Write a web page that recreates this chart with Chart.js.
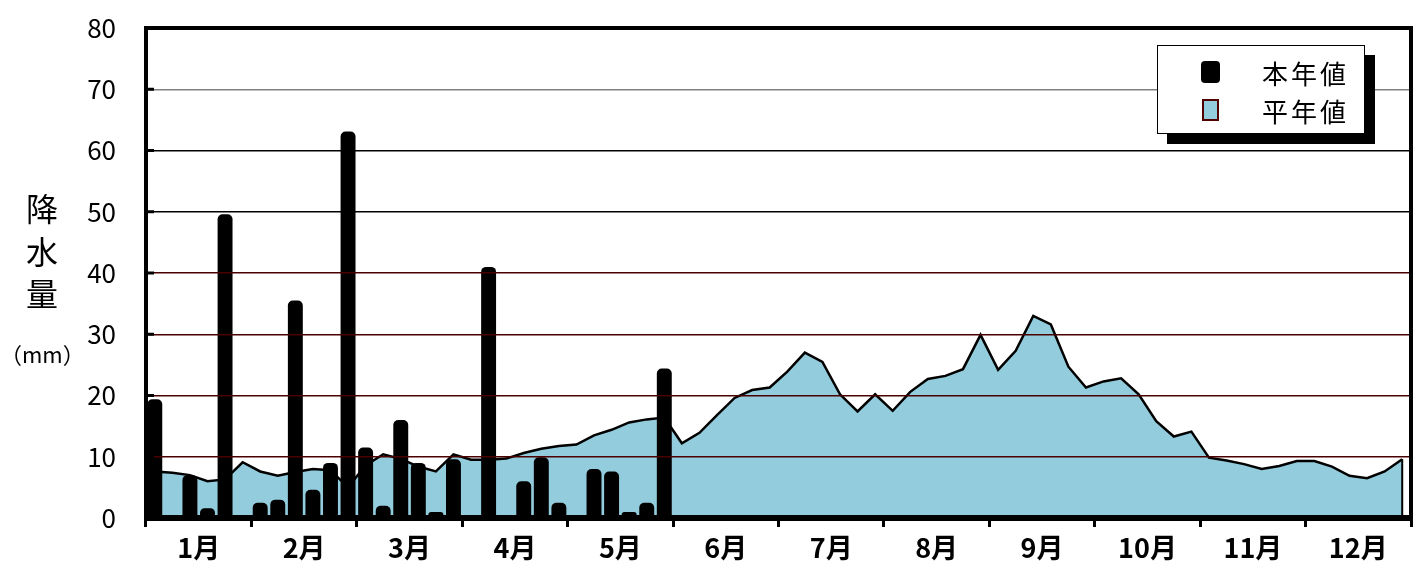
<!DOCTYPE html>
<html>
<head>
<meta charset="utf-8">
<script src="https://cdn.jsdelivr.net/npm/chart.js@4.4.1/dist/chart.umd.min.js"></script>
<style>
  body { margin: 0; background: #fff; }
  #wrap { position: relative; width: 1423px; height: 574px; font-family: "Noto Sans CJK JP", sans-serif; }
  #ytitle { position: absolute; left: 22px; top: 186px; width: 40px; text-align: center; font-size: 32px; line-height: 42.5px; }
  #yunit { position: absolute; left: 0px; top: 337px; width: 82px; text-align: center; font-size: 22px; }
  #legend { position: absolute; left: 1157px; top: 45px; width: 206px; height: 87px; border: 1.5px solid #000; background: #fff; box-shadow: 10px 10px 0 #000; }
  .mk { position: absolute; box-sizing: border-box; }
  .lt { position: absolute; left: 104px; font-size: 26px; letter-spacing: 3px; line-height: 30px; }
</style>
</head>
<body>
<div id="wrap">
  <canvas id="c" width="1423" height="574"></canvas>
  <div id="ytitle">降<br>水<br>量</div>
  <div id="yunit">（mm）</div>
  <div id="legend">
    <div class="mk" style="left:43px;top:15px;width:19px;height:22px;background:#000;border-radius:4px;"></div>
    <div class="lt" style="top:12px;">本年値</div>
    <div class="mk" style="left:44px;top:53px;width:17px;height:22px;background:#93cddd;border:2px solid #500000;"></div>
    <div class="lt" style="top:50px;">平年値</div>
  </div>
</div>
<script>
const months = ["1月", "2月", "3月", "4月", "5月", "6月", "7月", "8月", "9月", "10月", "11月", "12月"];
const pentads = months.flatMap((m) => [1, 2, 3, 4, 5, 6].map((k) => m + k));

// this year (5-day totals, Jan - May)
const thisYear = [
  19.4, 0, 7.0, 1.6, 49.6, 0,
  2.5, 3.0, 35.5, 4.6, 9.0, 63.1,
  11.5, 2.0, 16.0, 9.0, 1.0, 9.6,
  0, 41.0, 0, 6.0, 9.9, 2.5,
  0, 8.0, 7.6, 1.0, 2.5, 24.4,
];

// normal values
const normal = [
  7.6, 7.4, 7.0, 6.0, 6.3, 9.1,
  7.6, 6.9, 7.5, 8.0, 7.8, 5.0,
  8.6, 10.4, 9.65, 8.4, 7.6, 10.4,
  9.5, 9.5, 9.7, 10.6, 11.3, 11.75,
  12.0, 13.5, 14.4, 15.6, 16.1, 16.4,
  12.2, 13.9, 16.8, 19.6, 20.9, 21.3,
  23.9, 27.0, 25.5, 20.2, 17.4, 20.2,
  17.5, 20.6, 22.7, 23.2, 24.3, 29.9,
  24.2, 27.3, 33.0, 31.6, 24.7, 21.3,
  22.3, 22.8, 20.2, 15.8, 13.3, 14.1,
  9.85, 9.4, 8.8, 8.0, 8.5, 9.3,
  9.3, 8.4, 6.9, 6.5, 7.6, 9.6,
];

const yTicks = [0, 10, 20, 30, 40, 50, 60, 70, 80];

function gridColor(v) {
  if (v === 70) return "#808080";
  if (v === 50 || v === 60) return "#000";
  return "#4a0000";
}

const frame = {
  id: "frame",
  afterDraw(chart) {
    const { ctx, chartArea: a } = chart;
    const x = chart.scales.x;
    const y = chart.scales.y;
    ctx.save();
    ctx.strokeStyle = "#000";
    // inward ticks on the value axis
    ctx.lineWidth = 3;
    yTicks.forEach((v) => {
      const py = y.getPixelForValue(v);
      ctx.beginPath();
      ctx.moveTo(a.left, py);
      ctx.lineTo(a.left + 8, py);
      ctx.stroke();
    });
    // closing edge of the normal area
    const last = normal.length - 1;
    ctx.lineWidth = 2;
    ctx.beginPath();
    ctx.moveTo(x.getPixelForValue(last), y.getPixelForValue(normal[last]));
    ctx.lineTo(x.getPixelForValue(last), y.getPixelForValue(0));
    ctx.stroke();
    ctx.lineWidth = 4;
    ctx.strokeRect(a.left, a.top, a.right - a.left, a.bottom - a.top);
    ctx.lineWidth = 6;
    ctx.beginPath();
    ctx.moveTo(a.left - 2, a.bottom);
    ctx.lineTo(a.right + 2, a.bottom);
    ctx.stroke();
    ctx.restore();
  },
};

new Chart(document.getElementById("c"), {
  type: "bar",
  data: {
    labels: pentads,
    datasets: [
      {
        label: "本年値",
        data: thisYear,
        backgroundColor: "#000",
        borderRadius: { topLeft: 5, topRight: 5 },
        borderSkipped: "bottom",
        barPercentage: 0.85,
        categoryPercentage: 1,
        order: 1,
      },
      {
        type: "line",
        label: "平年値",
        data: normal,
        borderColor: "#000",
        borderWidth: 2.5,
        backgroundColor: "#93cddd",
        fill: "origin",
        pointRadius: 0,
        tension: 0,
        order: 2,
      },
    ],
  },
  options: {
    responsive: false,
    animation: false,
    layout: { padding: { top: 28, right: 12, left: 0, bottom: 0 } },
    plugins: { legend: { display: false }, tooltip: { enabled: false } },
    scales: {
      x: { display: false, offset: true },
      xm: {
        type: "category",
        labels: months,
        position: "bottom",
        offset: true,
        grid: { offset: true, drawOnChartArea: false, tickLength: 9, tickWidth: 3, tickColor: "#000" },
        border: { display: false },
        ticks: { color: "#000", padding: 5, font: { family: "Noto Sans CJK JP", size: 27, weight: "bold" } },
        afterFit: (s) => { s.height = 56; },
      },
      y: {
        min: 0,
        max: 80,
        ticks: { stepSize: 10, color: "#000", padding: 0, font: { family: "Noto Sans CJK JP", size: 26 } },
        grid: { z: 1, tickLength: 30, tickColor: "rgba(0,0,0,0)", lineWidth: 1.5, color: (c) => gridColor(c.tick.value) },
        border: { display: false },
        afterFit: (s) => { s.width = 146; },
      },
    },
  },
  plugins: [frame],
});
</script>
</body>
</html>
